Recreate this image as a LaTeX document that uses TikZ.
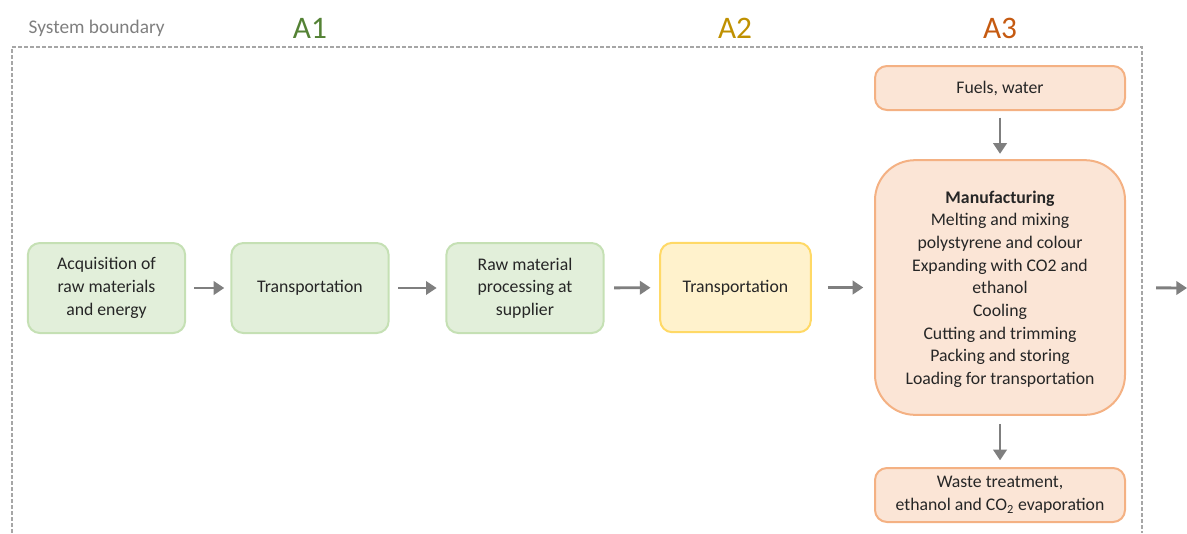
\documentclass[tikz,border=0pt]{standalone}
\usepackage{fontspec}
\setmainfont{Carlito}
\usetikzlibrary{arrows.meta}
\definecolor{greenfill}{HTML}{E2EFDA}
\definecolor{greenline}{HTML}{C5E0B4}
\definecolor{yellowfill}{HTML}{FFF2CC}
\definecolor{yellowline}{HTML}{FFD966}
\definecolor{orangefill}{HTML}{FBE5D6}
\definecolor{orangeline}{HTML}{F4B183}
\definecolor{arrowgray}{HTML}{7F7F7F}
\definecolor{boundgray}{HTML}{A6A6A6}
\definecolor{textgray}{HTML}{262626}
\tikzset{
  stage/.style={draw, line width=1.5pt, rounded corners=9pt, align=center,
    text=textgray, font=\fontsize{13.3}{17}\selectfont, inner sep=0pt},
  a1box/.style={stage, fill=greenfill, draw=greenline, minimum width=118pt, minimum height=67.5pt},
  a2box/.style={stage, fill=yellowfill, draw=yellowline, minimum width=113pt, minimum height=67pt},
  a3box/.style={stage, fill=orangefill, draw=orangeline, minimum width=187.5pt},
  flow/.style={draw=arrowgray, line width=2.2pt, -{Triangle[length=8pt,width=10pt]}},
  phase/.style={font=\fontsize{23.5}{28}\selectfont}
}
\begin{document}
\begin{tikzpicture}[x=0.75pt,y=-0.75pt]
\useasboundingbox (0,0) rectangle (1187,533);
% system boundary
\draw[boundgray, line width=1.1pt, dash pattern=on 3pt off 1.5pt] (12,533) -- (12,47) -- (1142,47) -- (1142,533);
\node[anchor=west, text=arrowgray, font=\fontsize{14.5}{17}\selectfont] (sysb) at (24,28) {System boundary};
\node[phase, text={rgb,255:red,84;green,130;blue,53}] (pa1) at (310,28) {A1};
\node[phase, text={rgb,255:red,191;green,144;blue,0}] (pa2) at (735,28) {A2};
\node[phase, text={rgb,255:red,197;green,90;blue,17}] (pa3) at (1000,28) {A3};
% stages
\node[a1box] (acq) at (106.5,288) {Acquisition of\\raw materials\\and energy};
\node[a1box] (trans1) at (310,288) {Transportation};
\node[a1box] (proc) at (525,288) {Raw material\\processing at\\supplier};
\node[a2box] (trans2) at (735.5,287.5) {Transportation};
\node[a3box, rounded corners=30pt, minimum height=191pt, text depth=-6pt] (manu) at (1000,287.5)
  {\textbf{Manufacturing}\\Melting and mixing\\polystyrene and colour\\Expanding with CO2 and\\ethanol\\Cooling\\Cutting and trimming\\Packing and storing\\Loading for transportation};
\node[a3box, minimum height=33pt] (fuel) at (1000,88) {Fuels, water};
\node[a3box, minimum height=40.5pt] (waste) at (1000,495) {Waste treatment,\\ethanol and CO\textsubscript{2} evaporation};
\coordinate (out) at (1187,288);
% flows
\draw[flow, shorten <=6pt, shorten >=4.5pt] (acq) -- (trans1);
\draw[flow, shorten <=6.5pt, shorten >=6.5pt] (trans1) -- (proc);
\draw[flow, shorten <=7pt, shorten >=6.5pt] (proc) -- (trans2);
\draw[flow, shorten <=12pt, shorten >=8pt] (trans2) -- (manu);
\draw[flow, shorten <=22.5pt] (manu) -- (out);
\draw[flow, shorten <=5pt, shorten >=4pt] (fuel) -- (manu);
\draw[flow, shorten <=6pt, shorten >=5pt] (manu) -- (waste);
\end{tikzpicture}
\end{document}
